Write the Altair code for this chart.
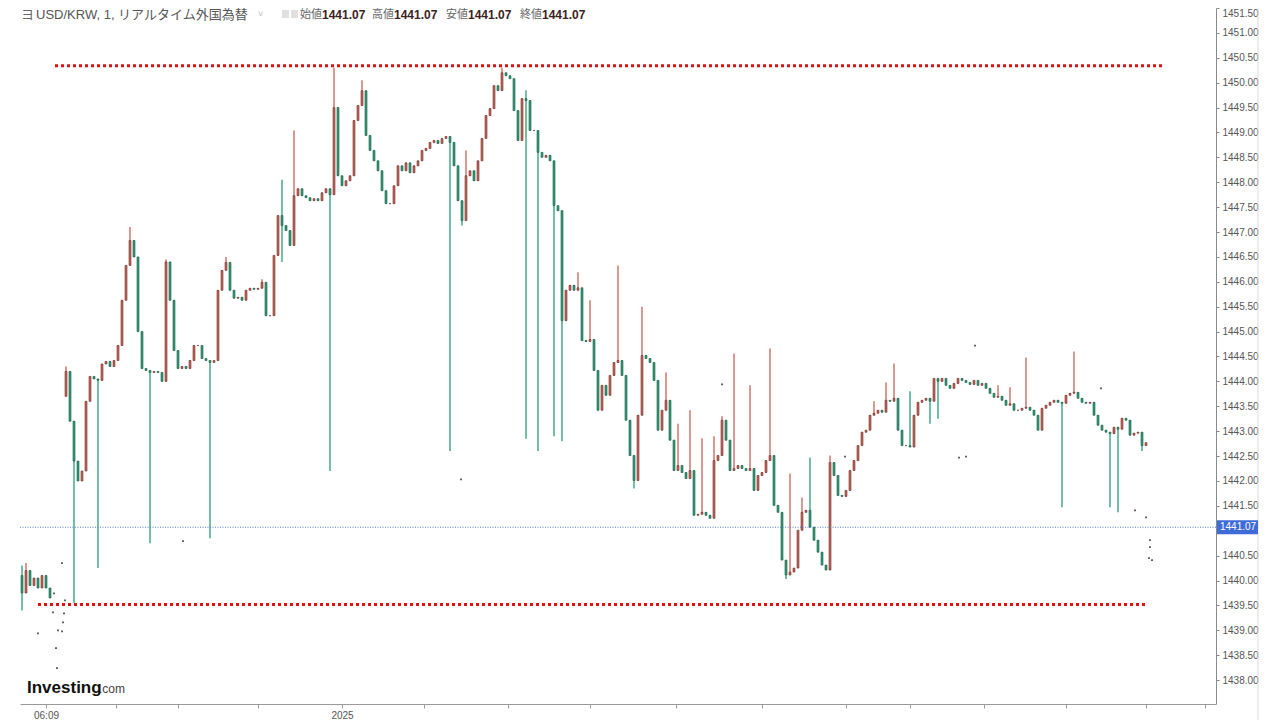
import altair as alt
import pandas as pd

# ---------------- data ----------------
closes = [
    1439.75, 1440.20, 1439.90, 1440.05, 1439.85, 1440.10, 1439.85, 1439.65, None, None,
    None, 1444.20, 1443.20, 1442.40, 1442.00, 1442.20, 1443.60, 1444.10, 1444.05, 1444.02,
    1444.35, 1444.40, 1444.30, 1444.42, 1444.72, 1445.63, 1446.33, 1446.83, 1446.50, 1445.00,
    1444.26, 1444.22, 1444.18, 1444.20, 1444.18, 1444.00, 1446.40, 1445.63, 1444.62, 1444.26,
    1444.30, 1444.26, 1444.42, 1444.72, 1444.72, 1444.46, 1444.42, 1444.38, 1444.42, 1445.83,
    1446.23, 1446.39, 1445.83, 1445.67, 1445.69, 1445.63, 1445.83, 1445.87, 1445.85, 1445.87,
    1445.99, 1445.32, 1445.32, 1446.53, 1447.33, 1447.13, 1447.03, 1446.73, 1447.73, 1447.87,
    1447.73, 1447.69, 1447.63, 1447.67, 1447.63, 1447.79, 1447.87, 1447.75, 1449.50, 1448.13,
    1447.93, 1448.03, 1448.13, 1449.24, 1449.54, 1449.84, 1448.94, 1448.64, 1448.43, 1448.23,
    1447.83, 1447.57, 1447.57, 1447.93, 1448.33, 1448.23, 1448.39, 1448.19, 1448.33, 1448.43,
    1448.64, 1448.68, 1448.80, 1448.84, 1448.78, 1448.88, 1448.92, 1448.80, 1448.33, 1447.63,
    1447.23, 1448.13, 1448.23, 1448.03, 1448.43, 1448.88, 1449.34, 1449.48, 1449.94, 1449.84,
    1450.20, 1450.14, 1450.08, 1449.44, 1448.84, 1449.68, 1449.64, 1449.04, 1449.04, 1448.60,
    1448.50, 1448.54, 1448.43, 1447.53, 1447.43, 1445.22, 1445.83, 1445.93, 1445.83, 1445.88,
    1444.82, 1444.80, 1444.84, 1444.22, 1443.42, 1443.92, 1443.72, 1444.12, 1444.38, 1444.42,
    1444.12, 1443.22, 1442.51, 1442.01, 1443.32, 1444.52, 1444.46, 1444.38, 1444.02, 1443.02,
    1443.42, 1443.62, 1442.82, 1442.21, 1442.31, 1442.17, 1442.05, 1442.21, 1441.31, 1441.33,
    1441.37, 1441.31, 1441.25, 1442.41, 1442.51, 1443.22, 1442.82, 1442.21, 1442.25, 1442.31,
    1442.25, 1442.21, 1442.25, 1441.81, 1442.11, 1442.17, 1442.41, 1442.51, 1441.51, 1441.37,
    1440.41, 1440.11, 1440.17, 1440.25, 1441.01, 1441.37, 1441.41, 1441.07, 1440.81, 1440.57,
    1440.31, 1440.21, 1442.37, 1442.11, 1441.71, 1441.69, 1441.81, 1442.21, 1442.41, 1442.71,
    1442.98, 1443.02, 1443.32, 1443.36, 1443.42, 1443.38, 1443.62, 1443.60, 1443.66, 1443.02,
    1442.71, 1442.71, 1442.68, 1443.32, 1443.58, 1443.62, 1443.66, 1443.60, 1444.06, 1444.00,
    1444.06, 1443.92, 1443.86, 1443.96, 1444.06, 1444.02, 1443.98, 1443.94, 1444.02, 1443.92,
    1443.96, 1443.86, 1443.76, 1443.68, 1443.70, 1443.62, 1443.52, 1443.55, 1443.42, 1443.42,
    1443.46, 1443.48, 1443.42, 1443.32, 1443.02, 1443.46, 1443.52, 1443.58, 1443.62, 1443.58,
    1443.56, 1443.72, 1443.76, 1443.78, 1443.66, 1443.58, 1443.56, 1443.58, 1443.32, 1443.12,
    1443.02, 1442.98, 1442.95, 1443.08, 1443.04, 1443.26, 1443.22, 1442.92, 1442.96, 1442.98,
    1442.71, 1442.77,
]
open_override = {0: 1440.10, 11: 1443.70}
wick_high = {
    0: 1440.30, 1: 1440.35, 11: 1444.30, 27: 1447.10, 36: 1446.45, 51: 1446.50, 60: 1446.05,
    65: 1448.05, 68: 1449.04, 78: 1450.30, 85: 1450.05, 111: 1448.64, 120: 1450.30, 126: 1449.85,
    139: 1446.19, 142: 1445.63, 149: 1446.33, 155: 1445.50, 161: 1444.18, 164: 1443.15,
    167: 1443.42, 170: 1442.86, 173: 1442.90, 175: 1443.30, 178: 1444.56, 182: 1443.92,
    187: 1444.66, 192: 1442.15, 195: 1441.67, 197: 1442.47, 202: 1442.51, 213: 1443.60,
    216: 1443.98, 218: 1444.36, 222: 1443.80, 244: 1443.92, 247: 1443.88, 251: 1444.48,
    263: 1444.60,
}
wick_low = {
    0: 1439.40, 13: 1439.55, 19: 1440.25, 32: 1440.75, 47: 1440.85, 65: 1446.40, 77: 1442.20,
    107: 1442.60, 110: 1447.13, 126: 1442.85, 129: 1442.60, 133: 1442.90, 135: 1442.80,
    153: 1441.85, 191: 1440.03, 227: 1443.15, 229: 1443.25, 260: 1441.47, 272: 1441.47,
    274: 1441.37, 280: 1442.60,
}
dots_t = [4, 7.75, 8, 8.5, 8.75, 9, 10, 10.25, 10.5, 10.75, 10, 40.25, 109.75, 175, 205.75,
          234.25, 236, 238.25, 269.75, 278.25, 281, 282, 282, 281.75, 282.5]
dots_p = [1438.94, 1439.36, 1439.74, 1438.64, 1438.24, 1439.00, 1438.98, 1439.16, 1439.34,
          1439.60, 1440.35, 1440.79, 1442.03, 1443.94, 1442.49, 1442.47, 1442.49, 1444.72,
          1443.86, 1441.41, 1441.27, 1440.81, 1440.67, 1440.45, 1440.41]

level_values = [1450.34, 1439.52]
level_start = [8.25, 4.0]
level_end = [285.0, 281.25]

last_price = 1441.07
y_ticks = [1438.0, 1438.5, 1439.0, 1439.5, 1440.0, 1440.5, 1441.5, 1442.0, 1442.5,
           1443.0, 1443.5, 1444.0, 1444.5, 1445.0, 1445.5, 1446.0, 1446.5, 1447.0, 1447.5,
           1448.0, 1448.5, 1449.0, 1449.5, 1450.0, 1450.5, 1451.0, 1451.5]
x_ticks = [6, 23.5, 39, 59, 80, 100.5, 121.5, 142, 163.5, 185, 206, 222, 240.5, 261, 281, 295.75]
x_tick_labels = ["06:09", "", "", "", "2025", "", "", "", "", "", "", "", "", "", "", ""]

# ---------------- build candle table ----------------
rows = []
prev = None
for i, c in enumerate(closes):
    if c is None:
        prev = None
        continue
    o = open_override.get(i, prev if prev is not None else c)
    hi = max(o, c, wick_high.get(i, max(o, c)))
    lo = min(o, c, wick_low.get(i, min(o, c)))
    rows.append({"t": i, "o": o, "c": c, "h": hi, "l": lo,
                 "dir": "up" if c >= o else "down"})
    prev = c
candles = pd.DataFrame(rows)
dots = pd.DataFrame({"t": dots_t, "p": dots_p})
levels = pd.DataFrame({"p": level_values, "t1": level_start, "t2": level_end})
last = pd.DataFrame({"p": [last_price], "lo": [last_price - 0.14], "hi": [last_price + 0.14],
                     "txt": [f"{last_price:.2f}"]})

RED = "#c9635b"
GREEN = "#2c9f78"
FONT = "Liberation Sans"
CJK = "Liberation Sans, Noto Sans CJK JP"

label_expr = " : ".join(
    f"datum.value == {v} ? '{l}'" for v, l in zip(x_ticks, x_tick_labels) if l
) + " : ''"

xscale = alt.Scale(domain=[-0.5, 298.5], nice=False, zero=False, padding=0)
yscale = alt.Scale(domain=[1437.52, 1451.5], nice=False, zero=False, padding=0)

xaxis = alt.Axis(values=x_ticks, labelExpr=label_expr, grid=False, title=None,
                 tickSize=4, tickColor="#9a9a9a", domainColor="#9a9a9a",
                 labelColor="#555", labelFontSize=10, labelFont=FONT,
                 labelPadding=2, labelFlush=False, labelOverlap=False)
yaxis = alt.Axis(orient="right", values=y_ticks, format=".2f", grid=False, title=None,
                 tickSize=3, tickColor="#888", domainColor="#8a8a8a",
                 labelColor="#555", labelFontSize=10, labelFont=FONT,
                 labelPadding=3, labelFlush=True, labelOverlap=False)


def XQ(field):
    return alt.X(field, scale=xscale, axis=xaxis)


def YQ(field):
    return alt.Y(field, scale=yscale, axis=yaxis)


dir_color = alt.Color("dir:N", scale=alt.Scale(domain=["up", "down"], range=[RED, GREEN]),
                      legend=None)
dir_stroke = alt.Stroke("dir:N", scale=alt.Scale(domain=["up", "down"],
                                                 range=["#6e3330", "#1f5a45"]), legend=None)

base = alt.Chart(candles)
wicks = base.mark_rule(strokeWidth=1.4, opacity=0.95).encode(
    x=XQ("t:Q"), y=YQ("l:Q"), y2="h:Q", color=dir_color)
bodies = base.mark_bar(width=2, strokeWidth=0.6).encode(
    x=XQ("t:Q"), y=YQ("o:Q"), y2="c:Q", color=dir_color, stroke=dir_stroke)

dot_marks = alt.Chart(dots).mark_square(size=3, color="#333", opacity=0.9).encode(
    x=XQ("t:Q"), y=YQ("p:Q"))

level_lines = alt.Chart(levels).mark_rule(color="#e01010", strokeWidth=3,
                                          strokeDash=[3, 3]).encode(
    x=XQ("t1:Q"), x2="t2:Q", y=YQ("p:Q"))

last_line = alt.Chart(last).mark_rule(color="#5b7fd1", strokeWidth=1,
                                      strokeDash=[1, 1.5]).encode(y=YQ("p:Q"))
last_box = alt.Chart(last).mark_rect(color="#3f6bd8").encode(
    x=alt.value(1197), x2=alt.value(1238), y=YQ("lo:Q"), y2="hi:Q")
last_txt = alt.Chart(last).mark_text(align="left", baseline="middle", color="white",
                                     fontSize=10, font=FONT).encode(
    x=alt.value(1200), y=YQ("p:Q"), text="txt:N")

one = pd.DataFrame({"a": [0]})


def txt(s, x, y, size=12, color="#555", weight="normal", font=CJK, baseline="middle"):
    return alt.Chart(one).mark_text(align="left", baseline=baseline, fontSize=size,
                                    color=color, fontWeight=weight, font=font).encode(
        x=alt.value(x), y=alt.value(y), text=alt.value(s))


def box(x1, x2, y1, y2, color):
    return alt.Chart(one).mark_rect(color=color).encode(
        x=alt.value(x1), x2=alt.value(x2), y=alt.value(y1), y2=alt.value(y2))


VAL = "#3b2222"
HY = 7
header = [
    txt("ヨ", 1, HY, 13, "#666"),
    txt("USD/KRW, 1, リアルタイム外国為替", 16, HY, 13, "#555"),
    txt("˅", 238, HY - 1, 9, "#bbb"),
    box(262, 269, 2, 10, "#e0e0e0"),
    box(271, 278, 2, 10, "#e0e0e0"),
    txt("始値", 280, HY, 11, "#666"),
    txt("1441.07", 302, HY, 12, VAL, "bold", FONT),
    txt("高値", 352, HY, 11, "#666"),
    txt("1441.07", 374, HY, 12, VAL, "bold", FONT),
    txt("安値", 426, HY, 11, "#666"),
    txt("1441.07", 448, HY, 12, VAL, "bold", FONT),
    txt("終値", 500, HY, 11, "#666"),
    txt("1441.07", 522, HY, 12, VAL, "bold", FONT),
]
logo = [
    txt("Investing", 7, 685, 17, "#111", "bold", FONT, "alphabetic"),
    txt(".com", 79, 685, 12, "#444", "normal", FONT, "alphabetic"),
]
right_border = alt.Chart(one).mark_rule(color="#dcdcdc", strokeWidth=1).encode(
    x=alt.value(1238), y=alt.value(0), y2=alt.value(712))

chart = alt.layer(
    right_border, wicks, bodies, last_line, level_lines, dot_marks, last_box, last_txt,
    *header, *logo
).properties(
    width=1196, height=696,
    padding={"left": 12, "top": 0, "right": 56, "bottom": 16},
    autosize=alt.AutoSizeParams(type="none"),
    background="white",
).configure_view(stroke=None)

chart.save("out.html", embed_options={"renderer": "svg", "actions": False})
